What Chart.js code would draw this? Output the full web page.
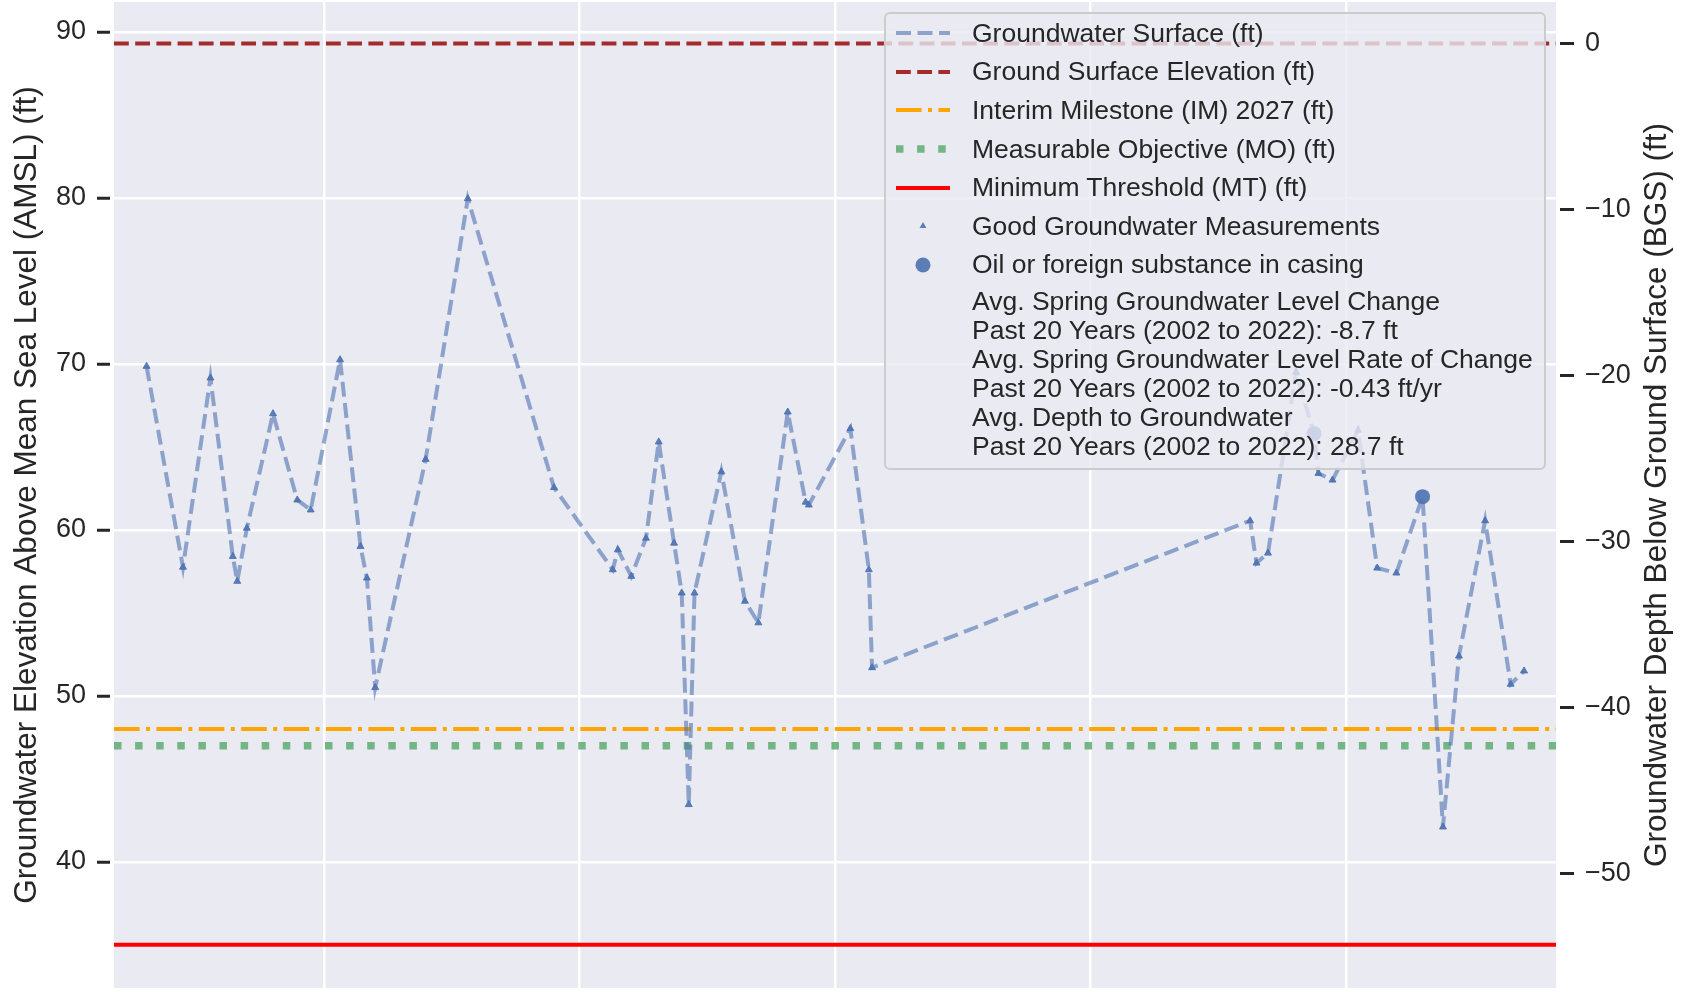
<!DOCTYPE html>
<html>
<head>
<meta charset="utf-8">
<script src="https://cdn.jsdelivr.net/npm/chart.js@4.4.1/dist/chart.umd.min.js"></script>
<style>
  html, body { margin: 0; padding: 0; background: #ffffff; }
  #wrap { position: relative; width: 1683px; height: 992px; }
  #legend {
    position: absolute; box-sizing: border-box;
    border: 2px solid #cccccc; border-radius: 6px;
    background: rgba(234, 234, 242, 0.8);
    font-family: 'Liberation Sans', Arial, sans-serif; font-size: 26.5px; color: #262626;
  }
  #legend .row { display: flex; align-items: center; height: 38.6px; white-space: nowrap; }
  #legend .row svg { margin-left: 10px; margin-right: 22px; flex: none; }
  #legend .stats { margin-top: 3px; padding-left: 86px; line-height: 29px; white-space: nowrap; }
</style>
</head>
<body>
<div id="wrap">
  <canvas id="gwChart" width="1683" height="992"></canvas>
  <div id="legend"></div>
</div>
<script>
// measurement dates (decimal years) and groundwater elevations (ft AMSL)
const sampleDates = [2001.22, 2001.79, 2002.22, 2002.57, 2002.64, 2002.79, 2003.20, 2003.58, 2003.79, 2004.25,
  2004.57, 2004.67, 2004.80, 2005.59, 2006.25, 2007.60, 2008.52, 2008.60, 2008.81, 2009.04,
  2009.24, 2009.48, 2009.60, 2009.71, 2009.80, 2010.22, 2010.59, 2010.80, 2011.26, 2011.54,
  2011.59, 2012.24, 2012.53, 2012.58, 2018.50, 2018.60, 2018.78, 2019.22, 2019.50, 2019.57,
  2019.79, 2020.19, 2020.49, 2020.79, 2021.20, 2021.52, 2021.77, 2022.18, 2022.58, 2022.79];
const groundwaterElev = [69.85, 57.75, 69.15, 58.4, 56.9, 60.1, 67.0, 61.8, 61.2, 70.25,
  59.0, 57.1, 50.5, 64.25, 79.95, 62.55, 57.6, 58.8, 57.2, 59.5,
  65.3, 59.2, 56.2, 43.45, 56.2, 63.5, 55.7, 54.4, 67.1, 61.67,
  61.5, 66.1, 57.6, 51.7, 60.55, 58.0, 58.6, 69.5, 65.8, 63.4,
  63.0, 66.0, 57.7, 57.4, 62.0, 42.1, 52.4, 60.55, 50.7, 51.5];
const sampleQuality = ['good', 'good', 'good', 'good', 'good', 'good', 'good', 'good', 'good', 'good',
  'good', 'good', 'good', 'good', 'good', 'good', 'good', 'good', 'good', 'good',
  'good', 'good', 'good', 'good', 'good', 'good', 'good', 'good', 'good', 'good',
  'good', 'good', 'good', 'good', 'good', 'good', 'good', 'good', 'oil', 'good',
  'good', 'good', 'good', 'good', 'oil', 'good', 'good', 'good', 'good', 'good'];

// reference levels (ft AMSL)
const groundSurfaceElev = 89.3;
const interimMilestone = 48.0;
const measurableObjective = 47.0;
const minimumThreshold = 35.0;

// axes
const xMin = 2000.71, xMax = 2023.29;
const yMin = 32.4, yMax = 91.8;
const xGridYears = [2004, 2008, 2012, 2016, 2020];
const elevTicks = [40, 50, 60, 70, 80, 90];
const depthTicks = [-50, -40, -30, -20, -10, 0];

const statsLines = [
  'Avg. Spring Groundwater Level Change',
  'Past 20 Years (2002 to 2022): -8.7 ft',
  'Avg. Spring Groundwater Level Rate of Change',
  'Past 20 Years (2002 to 2022): -0.43 ft/yr',
  'Avg. Depth to Groundwater',
  'Past 20 Years (2002 to 2022): 28.7 ft'
];

const ink = '#262626';
const allPoints = sampleDates.map((d, i) => ({x: d, y: groundwaterElev[i]}));
const goodPoints = allPoints.filter((p, i) => sampleQuality[i] === 'good');
const oilPoints = allPoints.filter((p, i) => sampleQuality[i] === 'oil');
const level = v => [{x: xMin, y: v}, {x: xMax, y: v}];

Chart.defaults.font.family = "'Liberation Sans', Arial, sans-serif";
Chart.defaults.color = ink;

const datasets = [
  { label: 'Groundwater Surface (ft)', data: allPoints, borderColor: 'rgba(76,114,176,0.6)',
    borderWidth: 4, borderDash: [15, 6.5], pointRadius: 0, order: 2 },
  { label: 'Ground Surface Elevation (ft)', data: level(groundSurfaceElev), borderColor: '#a52a2a',
    borderWidth: 4, borderDash: [14.8, 6.4], pointRadius: 0, order: 6 },
  { label: 'Interim Milestone (IM) 2027 (ft)', data: level(interimMilestone), borderColor: '#ffa500',
    borderWidth: 4, borderDash: [25.6, 6.4, 4, 6.4], pointRadius: 0, order: 5 },
  { label: 'Measurable Objective (MO) (ft)', data: level(measurableObjective), borderColor: 'rgba(85,168,104,0.8)',
    borderWidth: 7.5, borderDash: [7.5, 13.6], pointRadius: 0, order: 4 },
  { label: 'Minimum Threshold (MT) (ft)', data: level(minimumThreshold), borderColor: '#ff0000',
    borderWidth: 4, pointRadius: 0, order: 3 },
  { type: 'scatter', label: 'Good Groundwater Measurements', data: goodPoints, pointStyle: 'triangle',
    pointRadius: 4, backgroundColor: 'rgba(76,114,176,0.9)', borderColor: 'rgba(76,114,176,0.9)',
    borderWidth: 1, order: 1 },
  { type: 'scatter', label: 'Oil or foreign substance in casing', data: oilPoints, pointStyle: 'circle',
    pointRadius: 7.5, backgroundColor: 'rgba(76,114,176,0.9)', borderColor: 'rgba(76,114,176,0.9)',
    borderWidth: 0, order: 0 }
];

const plotBackground = {
  id: 'plotBackground',
  beforeDraw(chart) {
    const a = chart.chartArea, ctx = chart.ctx;
    ctx.save();
    ctx.fillStyle = '#eaeaf2';
    ctx.fillRect(a.left, a.top, a.right - a.left, a.bottom - a.top);
    ctx.restore();
  }
};

// matplotlib-style right label reads bottom to top
const rightTitle = {
  id: 'rightTitle',
  afterDraw(chart) {
    const s = chart.scales.y2, a = chart.chartArea, ctx = chart.ctx;
    ctx.save();
    ctx.translate(s.right - 26, (a.top + a.bottom) / 2);
    ctx.rotate(-Math.PI / 2);
    ctx.font = "31.5px 'Liberation Sans', Arial, sans-serif";
    ctx.fillStyle = ink;
    ctx.textAlign = 'center';
    ctx.textBaseline = 'middle';
    ctx.fillText('Groundwater Depth Below Ground Surface (BGS) (ft)', 0, 0);
    ctx.restore();
  }
};

// fixed axis sizes, no extra label overhang padding
const fixSize = (w, h) => s => {
  if (w !== null) s.width = w;
  if (h !== null) s.height = h;
  s.paddingTop = 0; s.paddingBottom = 0; s.paddingLeft = 0; s.paddingRight = 0;
};

const myChart = new Chart(document.getElementById('gwChart'), {
  type: 'line',
  data: { datasets },
  plugins: [plotBackground, rightTitle],
  options: {
    responsive: false,
    devicePixelRatio: 1,
    animation: false,
    events: [],
    layout: { autoPadding: false, padding: { top: 2, left: 0, right: 0, bottom: 0 } },
    elements: { line: { tension: 0 } },
    plugins: { legend: { display: false }, tooltip: { enabled: false } },
    scales: {
      x: {
        type: 'linear', min: xMin, max: xMax,
        ticks: { display: false },
        grid: { color: '#ffffff', lineWidth: 2.5, drawTicks: false },
        border: { display: false },
        afterBuildTicks: s => { s.ticks = xGridYears.map(v => ({value: v})); },
        afterFit: fixSize(null, 4)
      },
      y: {
        position: 'left', min: yMin, max: yMax,
        afterBuildTicks: s => { s.ticks = elevTicks.map(v => ({value: v})); },
        ticks: { font: { size: 27 }, color: ink, padding: 11 },
        grid: { color: '#ffffff', lineWidth: 2.5, tickLength: 17, tickColor: ink, tickWidth: 3,
          tickBorderDash: [13, 10] },
        border: { display: false },
        title: { display: true, text: 'Groundwater Elevation Above Mean Sea Level (AMSL) (ft)',
          font: { size: 31.5 }, color: ink, padding: { top: 8, bottom: 0 } },
        afterFit: fixSize(114, null)
      },
      y2: {
        position: 'right', min: yMin - groundSurfaceElev, max: yMax - groundSurfaceElev,
        afterBuildTicks: s => { s.ticks = depthTicks.map(v => ({value: v})); },
        ticks: { font: { size: 27 }, color: ink, padding: 11,
          callback: v => v < 0 ? '\u2212' + Math.abs(v) : String(v) },
        grid: { drawOnChartArea: false, tickLength: 18, tickColor: ink, tickWidth: 3,
          tickBorderDash: [0, 4, 14, 50] },
        border: { display: false },
        afterFit: fixSize(127, null)
      }
    }
  }
});

// html legend built from the chart's datasets
function legendHandle(ds) {
  const ns = 'http://www.w3.org/2000/svg';
  const svg = document.createElementNS(ns, 'svg');
  svg.setAttribute('width', 54);
  svg.setAttribute('height', 38);
  let mark;
  if (ds.type === 'scatter') {
    if (ds.pointStyle === 'triangle') {
      const r = ds.pointRadius;
      mark = document.createElementNS(ns, 'polygon');
      mark.setAttribute('points', `${27 - r * 0.87},${19 + r * 0.5} ${27 + r * 0.87},${19 + r * 0.5} 27,${19 - r}`);
    } else {
      mark = document.createElementNS(ns, 'circle');
      mark.setAttribute('cx', 27); mark.setAttribute('cy', 19); mark.setAttribute('r', ds.pointRadius);
    }
    mark.setAttribute('fill', ds.backgroundColor);
  } else {
    mark = document.createElementNS(ns, 'line');
    mark.setAttribute('x1', 0); mark.setAttribute('x2', 54);
    mark.setAttribute('y1', 19); mark.setAttribute('y2', 19);
    mark.setAttribute('stroke', ds.borderColor);
    mark.setAttribute('stroke-width', ds.borderWidth);
    if (ds.borderDash) mark.setAttribute('stroke-dasharray', ds.borderDash.join(' '));
  }
  svg.appendChild(mark);
  return svg;
}

(function buildLegend(chart) {
  const box = document.getElementById('legend');
  const a = chart.chartArea;
  const w = 662, h = 458;
  box.style.left = (a.right - 10 - w) + 'px';
  box.style.top = (a.top + 10) + 'px';
  box.style.width = w + 'px';
  box.style.height = h + 'px';
  chart.data.datasets.forEach(ds => {
    const row = document.createElement('div');
    row.className = 'row';
    row.appendChild(legendHandle(ds));
    const txt = document.createElement('span');
    txt.textContent = ds.label;
    row.appendChild(txt);
    box.appendChild(row);
  });
  const stats = document.createElement('div');
  stats.className = 'stats';
  statsLines.forEach(t => {
    const line = document.createElement('div');
    line.textContent = t;
    stats.appendChild(line);
  });
  box.appendChild(stats);
})(myChart);
</script>
</body>
</html>
